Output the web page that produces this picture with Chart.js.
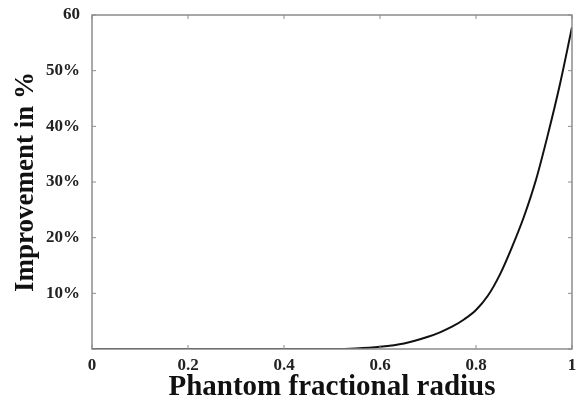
<!DOCTYPE html>
<html><head><meta charset="utf-8">
<script src="https://cdn.jsdelivr.net/npm/chart.js@4/dist/chart.umd.min.js"></script>
<style>html,body{margin:0;padding:0;background:#fff}#wrap{width:579px;height:400px}</style>
</head><body><div id="wrap"><canvas id="c"></canvas></div>
<script>
const radius = [0,0.1,0.2,0.3,0.4,0.5,0.55,0.6,0.65,0.7,0.725,0.75,0.775,0.8,0.825,0.85,0.875,0.9,0.925,0.95,0.975,1.0];
const improvement = [0,0,0,0,0,0,0.1,0.4,1.0,2.2,3.0,4.0,5.3,7.0,9.6,13.4,18.3,23.8,30.4,38.6,47.6,57.8];
const xTicks = [0,0.2,0.4,0.6,0.8,1];
const xTickLabels = ['0','0.2','0.4','0.6','0.8','1'];
const yTicks = [0,10,20,30,40,50,60];
const yTickLabels = ['','10%','20%','30%','40%','50%','60'];

const fontFam = '"Liberation Serif","DejaVu Serif",serif';

const boxPlugin = {
  id:'box',
  afterDraw(chart){
    const {ctx, chartArea:a, scales:{x,y}} = chart;
    ctx.save();
    ctx.strokeStyle='#8c8c8c'; ctx.lineWidth=1.5;
    ctx.strokeRect(a.left,a.top,a.right-a.left,a.bottom-a.top);
    ctx.lineWidth=1;
    xTicks.forEach(v=>{const p=x.getPixelForValue(v);
      ctx.beginPath();ctx.moveTo(p,a.bottom);ctx.lineTo(p,a.bottom-4);ctx.moveTo(p,a.top);ctx.lineTo(p,a.top+4);ctx.stroke();});
    yTicks.forEach(v=>{const p=y.getPixelForValue(v);
      ctx.beginPath();ctx.moveTo(a.left,p);ctx.lineTo(a.left+4,p);ctx.moveTo(a.right,p);ctx.lineTo(a.right-4,p);ctx.stroke();});
    ctx.restore();
  }
};

new Chart(document.getElementById('c'),{
  type:'line',
  data:{datasets:[{data:radius.map((r,i)=>({x:r,y:improvement[i]})),borderColor:'#111',borderWidth:2,pointRadius:0,cubicInterpolationMode:'monotone',fill:false}]},
  options:{
    responsive:true,maintainAspectRatio:false,animation:false,
    layout:{padding:{top:15,right:7,left:10,bottom:0}},
    plugins:{legend:{display:false},tooltip:{enabled:false}},
    scales:{
      x:{type:'linear',min:0,max:1,
        afterBuildTicks(s){s.ticks=xTicks.map(v=>({value:v}));},
        afterFit(s){s.height=51;},
        grid:{display:false},border:{display:false},
        ticks:{color:'#222',font:{family:fontFam,size:17,weight:'bold'},padding:-2,maxRotation:0,
          callback:(v,i)=>xTickLabels[i]},
        title:{display:true,text:'Phantom fractional radius',color:'#111',font:{family:fontFam,size:29,weight:'bold'},padding:{top:0,bottom:-5}}
      },
      y:{type:'linear',min:0,max:60,
        afterBuildTicks(s){s.ticks=yTicks.map(v=>({value:v}));},
        afterFit(s){s.width=82;},
        grid:{display:false},border:{display:false},
        ticks:{color:'#222',font:{family:fontFam,size:17,weight:'bold'},padding:4,
          callback:(v,i)=>yTickLabels[i]},
        title:{display:true,text:'Improvement in %',color:'#111',font:{family:fontFam,size:27,weight:'bold'},padding:{top:0,bottom:0}}
      }
    }
  },
  plugins:[boxPlugin]
});
</script></body></html>
